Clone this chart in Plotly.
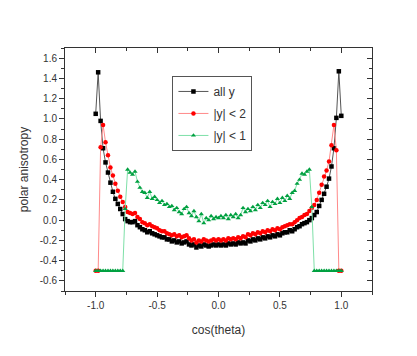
import plotly.graph_objects as go

# cos(theta) bins
cos_theta = [
    -1.00, -0.98, -0.96, -0.94, -0.92, -0.90, -0.88, -0.86, -0.84, -0.82,
    -0.80, -0.78, -0.76, -0.74, -0.72, -0.70, -0.68, -0.66, -0.64, -0.62,
    -0.60, -0.58, -0.56, -0.54, -0.52, -0.50, -0.48, -0.46, -0.44, -0.42,
    -0.40, -0.38, -0.36, -0.34, -0.32, -0.30, -0.28, -0.26, -0.24, -0.22,
    -0.20, -0.18, -0.16, -0.14, -0.12, -0.10, -0.08, -0.06, -0.04, -0.02,
    0.00, 0.02, 0.04, 0.06, 0.08, 0.10, 0.12, 0.14, 0.16, 0.18,
    0.20, 0.22, 0.24, 0.26, 0.28, 0.30, 0.32, 0.34, 0.36, 0.38,
    0.40, 0.42, 0.44, 0.46, 0.48, 0.50, 0.52, 0.54, 0.56, 0.58,
    0.60, 0.62, 0.64, 0.66, 0.68, 0.70, 0.72, 0.74, 0.76, 0.78,
    0.80, 0.82, 0.84, 0.86, 0.88, 0.90, 0.92, 0.94, 0.96, 0.98,
    1.00,
]

all_y = [
    1.05, 1.46, 0.98, 0.71, 0.57, 0.47, 0.37, 0.28, 0.21, 0.16,
    0.11, 0.06, 0.01, -0.01, -0.02, -0.02, -0.01, -0.05, -0.07, -0.09,
    -0.10, -0.12, -0.11, -0.13, -0.14, -0.15, -0.16, -0.17, -0.17, -0.19,
    -0.19, -0.21, -0.20, -0.22, -0.21, -0.23, -0.22, -0.21, -0.24, -0.25,
    -0.24, -0.27, -0.25, -0.26, -0.24, -0.25, -0.26, -0.25, -0.24, -0.25,
    -0.24, -0.25, -0.24, -0.25, -0.23, -0.24, -0.23, -0.24, -0.22, -0.23,
    -0.22, -0.23, -0.20, -0.21, -0.19, -0.20, -0.18, -0.19, -0.17, -0.18,
    -0.16, -0.17, -0.15, -0.16, -0.14, -0.15, -0.13, -0.12, -0.12, -0.10,
    -0.11, -0.09, -0.07, -0.06, -0.04, -0.03, -0.02, 0.00, 0.02, 0.05,
    0.08, 0.14, 0.20, 0.26, 0.33, 0.41, 0.53, 0.71, 1.01, 1.47,
    1.03,
]

y_lt_2 = [
    -0.50, -0.50, 0.72, 0.94, 0.77, 0.64, 0.52, 0.44, 0.36, 0.29,
    0.23, 0.18, 0.13, 0.08, 0.07, 0.06, 0.07, 0.03, 0.01, -0.02,
    -0.03, -0.05, -0.04, -0.06, -0.07, -0.08, -0.10, -0.11, -0.11, -0.13,
    -0.14, -0.15, -0.14, -0.16, -0.15, -0.17, -0.16, -0.15, -0.18, -0.20,
    -0.19, -0.22, -0.20, -0.21, -0.19, -0.20, -0.21, -0.20, -0.19, -0.20,
    -0.19, -0.20, -0.19, -0.20, -0.18, -0.19, -0.18, -0.19, -0.17, -0.18,
    -0.16, -0.17, -0.14, -0.15, -0.13, -0.14, -0.12, -0.13, -0.11, -0.12,
    -0.10, -0.11, -0.09, -0.10, -0.08, -0.09, -0.07, -0.06, -0.05, -0.04,
    -0.04, -0.02, 0.00, 0.02, 0.03, 0.05, 0.06, 0.09, 0.12, 0.15,
    0.20, 0.27, 0.35, 0.43, 0.49, 0.58, 0.74, 0.94, 0.69, -0.50,
    -0.50,
]

y_lt_1 = [
    -0.50, -0.50, -0.50, -0.50, -0.50, -0.50, -0.50, -0.50, -0.50, -0.50,
    -0.50, -0.50, 0.11, 0.50, 0.47, 0.45, 0.48, 0.38, 0.32, 0.28,
    0.27, 0.22, 0.28, 0.21, 0.23, 0.20, 0.17, 0.19, 0.15, 0.16,
    0.13, 0.14, 0.10, 0.12, 0.08, 0.06, 0.11, 0.13, 0.07, 0.04,
    0.09, 0.03, -0.01, 0.06, -0.03, 0.02, 0.00, 0.04, 0.01, 0.03,
    0.02, 0.04, 0.02, 0.05, 0.01, 0.05, 0.03, 0.06, 0.02, 0.05,
    0.12, 0.08, 0.11, 0.09, 0.13, 0.10, 0.15, 0.12, 0.17, 0.15,
    0.19, 0.13, 0.18, 0.16, 0.21, 0.17, 0.22, 0.19, 0.24, 0.21,
    0.27, 0.29, 0.36, 0.40, 0.46, 0.45, 0.48, 0.50, 0.13, -0.50,
    -0.50, -0.50, -0.50, -0.50, -0.50, -0.50, -0.50, -0.50, -0.50, -0.50,
    -0.50,
]

x_ticks = [-1.0, -0.5, 0.0, 0.5, 1.0]
x_minor = [-1.25, -0.75, -0.25, 0.25, 0.75, 1.25]
y_ticks = [-0.6, -0.4, -0.2, 0.0, 0.2, 0.4, 0.6, 0.8, 1.0, 1.2, 1.4, 1.6]

series = [
    ("all y", all_y, "#000000", "#555555", "square"),
    ("|y| < 2", y_lt_2, "#ff0000", "#ff8a8a", "circle"),
    ("|y| < 1", y_lt_1, "#00a040", "#7ee0a8", "triangle-up"),
]

fig = go.Figure()

for name, vals, mcol, lcol, sym in series:
    fig.add_trace(go.Scatter(
        x=cos_theta, y=vals, name=name, mode="lines+markers",
        legendgroup=name,
        line=dict(color=lcol, width=1),
        marker=dict(color=mcol, symbol=sym, size=4.5, line=dict(width=0)),
    ))

# trace vide pour que les axes haut/droite (ticks vers l'intérieur) soient dessinés
fig.add_trace(go.Scatter(x=[None], y=[None], xaxis="x2", yaxis="y2",
                         showlegend=False, hoverinfo="skip"))

font_main = "Liberation Sans, Arial, sans-serif"

# la page ajoute 8 px de marge (body), d'où la taille réduite
fig.update_layout(
    width=409, height=348,
    margin=dict(l=57, r=45, t=40, b=65),
    paper_bgcolor="white", plot_bgcolor="white",
    font=dict(family=font_main, size=10, color="#333333"),
    xaxis=dict(
        range=[-1.25, 1.25], tickvals=x_ticks,
        ticktext=["%.1f" % v for v in x_ticks],
        ticks="outside", ticklen=5, tickcolor="#333", tickwidth=1,
        minor=dict(ticks="outside", ticklen=3, tickvals=x_minor, tickcolor="#333"),
        showline=True, linecolor="#333", linewidth=1, mirror=True,
        showgrid=False, zeroline=False, automargin=False,
        title=dict(text="cos(theta)", font=dict(size=12, color="#333"), standoff=15),
    ),
    yaxis=dict(
        range=[-0.7, 1.7], tickvals=y_ticks,
        ticktext=["%.1f" % v for v in y_ticks],
        ticks="outside", ticklen=5, tickcolor="#333", tickwidth=1,
        minor=dict(ticks="outside", ticklen=3, dtick=0.1, tick0=-0.7, tickcolor="#333"),
        showline=True, linecolor="#333", linewidth=1, mirror=True,
        showgrid=False, zeroline=False, automargin=False,
        title=dict(text="polar anisotropy", font=dict(size=12, color="#333"), standoff=8),
    ),
    xaxis2=dict(
        overlaying="x", side="top", range=[-1.25, 1.25],
        tickvals=x_ticks, showticklabels=False,
        ticks="inside", ticklen=5, tickcolor="#333",
        minor=dict(ticks="inside", ticklen=3, tickvals=x_minor, tickcolor="#333"),
        showgrid=False, zeroline=False, showline=False,
    ),
    yaxis2=dict(
        overlaying="y", side="right", range=[-0.7, 1.7],
        tickvals=y_ticks, showticklabels=False,
        ticks="inside", ticklen=5, tickcolor="#333",
        minor=dict(ticks="inside", ticklen=3, dtick=0.1, tick0=-0.7, tickcolor="#333"),
        showgrid=False, zeroline=False, showline=False,
    ),
    legend=dict(
        x=0.35, y=0.885, xanchor="left", yanchor="top",
        bgcolor="white", bordercolor="#555", borderwidth=1,
        font=dict(size=12, color="#333"), itemwidth=30,
        tracegroupgap=3,
    ),
    showlegend=True,
)

fig.write_html("out.html")
